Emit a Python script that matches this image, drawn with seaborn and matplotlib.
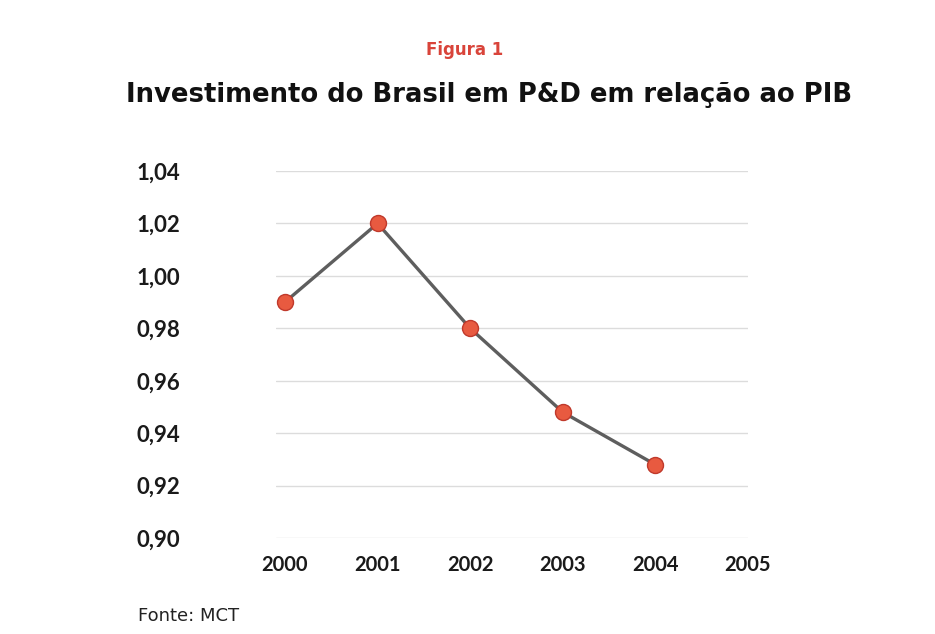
import matplotlib
matplotlib.use('Agg')
from matplotlib import pyplot as plt
from matplotlib.ticker import FuncFormatter
import pandas as pd
import seaborn as sns

anos = [2000, 2001, 2002, 2003, 2004]
pd_pib = [0.99, 1.02, 0.98, 0.948, 0.928]
x_ticks = [2000, 2001, 2002, 2003, 2004, 2005]
y_ticks = [0.90, 0.92, 0.94, 0.96, 0.98, 1.00, 1.02, 1.04]

df = pd.DataFrame({'ano': anos, 'valor': pd_pib})

sns.set_style('white')
plt.rcParams['font.family'] = ['DejaVu Sans']

fig = plt.figure(figsize=(9.35, 6.34), dpi=100)
ax = fig.add_axes([0.2949, 0.1514, 0.505, 0.5789])

sns.lineplot(data=df, x='ano', y='valor', ax=ax, color='#5e5e5e', linewidth=2.4,
             marker='o', markersize=11.5, markerfacecolor='#e85a40',
             markeredgecolor='#c0392b', markeredgewidth=1.0)

ax.set_xlim(1999.9, 2004.97)
ax.set_ylim(0.90, 1.04)
ax.set_xticks(x_ticks)
ax.set_yticks(y_ticks)
ax.yaxis.set_major_formatter(FuncFormatter(lambda v, p: f'{v:.2f}'.replace('.', ',')))
ax.grid(axis='y', color='#dcdcdc', linewidth=1.0)
ax.set_axisbelow(True)
for s in ax.spines.values():
    s.set_visible(False)
ax.tick_params(axis='both', length=0)
ax.tick_params(axis='y', pad=69)
ax.tick_params(axis='x', pad=12)
for lab in ax.get_xticklabels():
    lab.set_fontfamily('Lato')
    lab.set_fontweight('bold')
    lab.set_fontsize(14.5)
    lab.set_color('#1a1a1a')
for lab in ax.get_yticklabels():
    lab.set_fontfamily('Lato')
    lab.set_fontweight('bold')
    lab.set_fontsize(16)
    lab.set_color('#1a1a1a')
ax.set_xlabel('')
ax.set_ylabel('')

fig.text(0.497, 0.921, 'Figura 1', color='#d9443a', fontsize=12, fontweight='bold',
         ha='center', va='center')
fig.text(0.5235, 0.850, 'Investimento do Brasil em P&D em relação ao PIB', color='#111111',
         fontsize=18.6, fontweight='bold', ha='center', va='center')
fig.text(0.148, 0.028, 'Fonte: MCT', color='#222222', fontsize=13, ha='left', va='center')

fig.savefig('out.png', dpi=100)
